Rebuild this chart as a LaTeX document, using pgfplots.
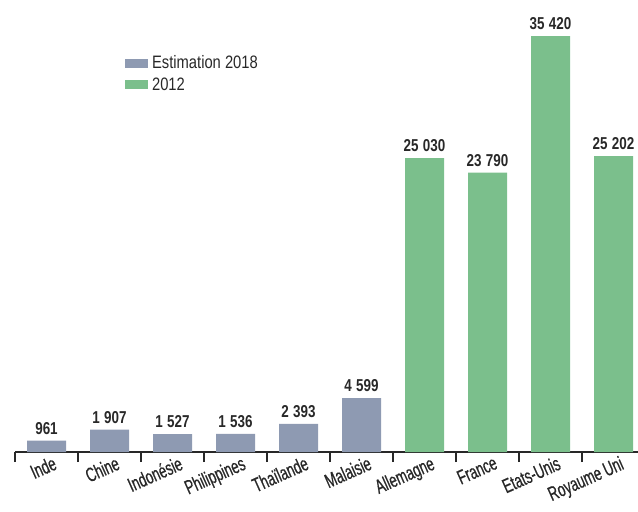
\documentclass[border=0pt]{standalone}
\usepackage{fontspec}
\setmainfont{Liberation Sans}[FakeStretch=0.82]
\newfontfamily\narrow{Liberation Sans}[FakeStretch=0.66, FakeBold=0.6]
\newfontfamily\numfont{Liberation Sans}[FakeStretch=0.78]
\usepackage{pgfplots}
\pgfplotsset{compat=1.18}
\definecolor{grayblue}{RGB}{142,154,178}
\definecolor{mygreen}{RGB}{123,191,140}
\definecolor{txt}{RGB}{40,40,40}
\begin{document}
\begin{tikzpicture}
\begin{axis}[
  name=ax,
  scale only axis,
  width=311.5pt, height=226pt,
  xmin=-0.5, xmax=9.389,
  ymin=0, ymax=38500,
  axis x line=bottom,
  axis y line=none,
  axis line style={txt, line width=1pt, -},
  ybar, bar width=19.5pt, bar shift=0pt,
  xtick={0,...,9},
  xticklabels={Inde,Chine,Indonésie,Philippines,Thaïlande,Malaisie,Allemagne,France,Etats-Unis,Royaume Uni},
  major tick length=0pt,
  minor xtick={-0.5,0.5,...,8.5},
  minor tick length=5pt,
  xtick align=outside,
  minor tick style={txt, line width=0.6pt},
  xticklabel style={rotate=24, anchor=north east, font=\narrow\fontsize{10}{11}\selectfont, text=txt, xshift=3pt, yshift=-1.5pt, inner sep=1pt},
  nodes near coords,
  /pgf/number format/assume math mode=true,
  /pgf/number format/fixed,
  /pgf/number format/precision=0,
  /pgf/number format/1000 sep={\hspace{0.25em}},
  nodes near coords style={font=\numfont\fontsize{8.6}{10}\selectfont\bfseries, text=txt, inner sep=3pt},
  legend style={at={(0.176,0.887)}, anchor=north west, draw=none, fill=none,
    font=\fontsize{9}{11}\selectfont, text=txt, row sep=-1pt, inner sep=0pt,
    /tikz/every even column/.append style={column sep=2pt}},
  legend cell align=left,
  legend image code/.code={\fill[#1] (-2pt,-2pt) rectangle (9.5pt,2.5pt);},
  clip=false,
]
\addplot[fill=grayblue, draw=none] coordinates {(0,961) (1,1907) (2,1527) (3,1536) (4,2393) (5,4599)};
\addlegendentry{Estimation 2018}
\addplot[fill=mygreen, draw=none] coordinates {(6,25030) (7,23790) (8,35420) (9,25202)};
\addlegendentry{2012}
\end{axis}
\pgfresetboundingbox
\path ([xshift=-7.5pt,yshift=-29.5pt]ax.south west) rectangle (ax.north east);
\end{tikzpicture}
\end{document}
